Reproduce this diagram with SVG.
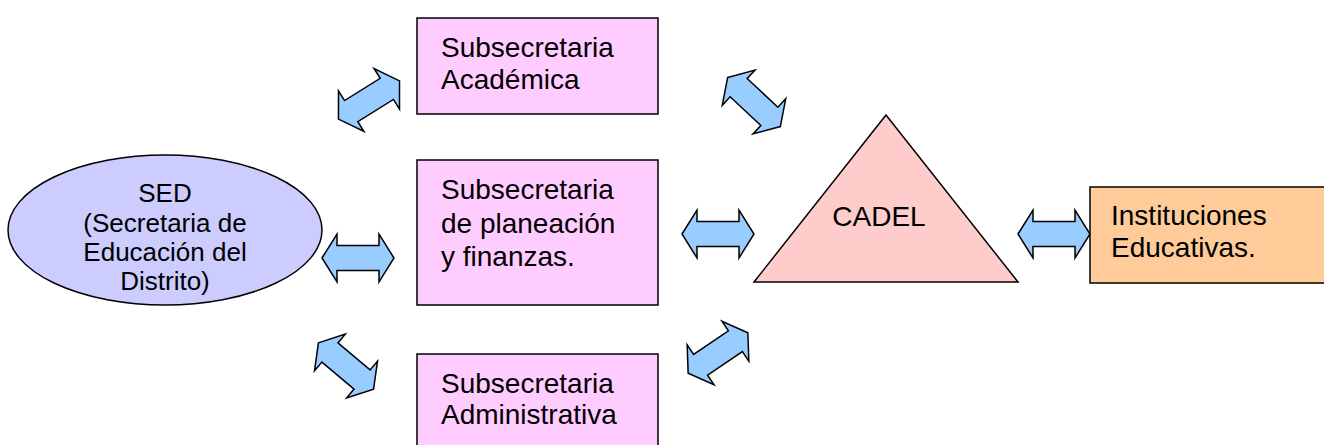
<svg xmlns="http://www.w3.org/2000/svg" xmlns:xlink="http://www.w3.org/1999/xlink" width="1324" height="445" viewBox="0 0 1324 445">
<style>
.box{fill:#FFCCFF;stroke:#000;stroke-width:1.5}
.arr{fill:#99CCFF;stroke:#000;stroke-width:1.5;stroke-linejoin:miter}
text{font-family:"Liberation Sans",Arial,sans-serif;fill:#000}
.t28{font-size:28px}
.t25{font-size:26px}
</style>
<defs>
<path id="dbl" d="M-36,0 L-21,-24 L-21,-12.5 L21,-12.5 L21,-24 L36,0 L21,24 L21,12.5 L-21,12.5 L-21,24 Z"/>
</defs>
<rect width="1324" height="445" fill="#fff"/>
<g id="connectors">
<use xlink:href="#dbl" class="arr" transform="translate(358,258)"/>
<use xlink:href="#dbl" class="arr" transform="translate(718,234)"/>
<use xlink:href="#dbl" class="arr" transform="translate(1054,234)"/>
<use xlink:href="#dbl" class="arr" transform="translate(369,100) rotate(-32)"/>
<use xlink:href="#dbl" class="arr" transform="translate(346,366) rotate(40)"/>
<use xlink:href="#dbl" class="arr" transform="translate(754,102) rotate(43)"/>
<use xlink:href="#dbl" class="arr" transform="translate(718,353) rotate(-34)"/>
</g>
<g id="sed">
<ellipse cx="165" cy="230" rx="157" ry="75" fill="#CCCCFF" stroke="#000" stroke-width="1.5"/>
<text class="t25" text-anchor="middle" x="165" y="202">SED</text>
<text class="t25" text-anchor="middle" x="165" y="232">(Secretaria de</text>
<text class="t25" text-anchor="middle" x="165" y="261">Educación del</text>
<text class="t25" text-anchor="middle" x="165" y="290">Distrito)</text>
</g>
<g id="academica">
<rect class="box" x="417" y="18" width="241" height="96"/>
<text class="t28" x="441" y="57">Subsecretaria</text>
<text class="t28" x="441" y="89">Académica</text>
</g>
<g id="planeacion">
<rect class="box" x="417" y="160" width="241" height="145"/>
<text class="t28" x="441" y="199">Subsecretaria</text>
<text class="t28" x="441" y="233">de planeación</text>
<text class="t28" x="441" y="266">y finanzas.</text>
</g>
<g id="administrativa">
<rect class="box" x="417" y="354" width="241" height="100"/>
<text class="t28" x="441" y="393">Subsecretaria</text>
<text class="t28" x="441" y="424">Administrativa</text>
</g>
<g id="cadel">
<polygon points="886,115 1018,282 754,282" fill="#FFCCCC" stroke="#000" stroke-width="1.5"/>
<text class="t28" text-anchor="middle" x="879" y="226">CADEL</text>
</g>
<g id="instituciones">
<rect x="1090" y="187" width="240" height="96" fill="#FFCC99" stroke="#000" stroke-width="1.5"/>
<text class="t28" x="1111" y="225">Instituciones</text>
<text class="t28" x="1111" y="257">Educativas.</text>
</g>
</svg>
